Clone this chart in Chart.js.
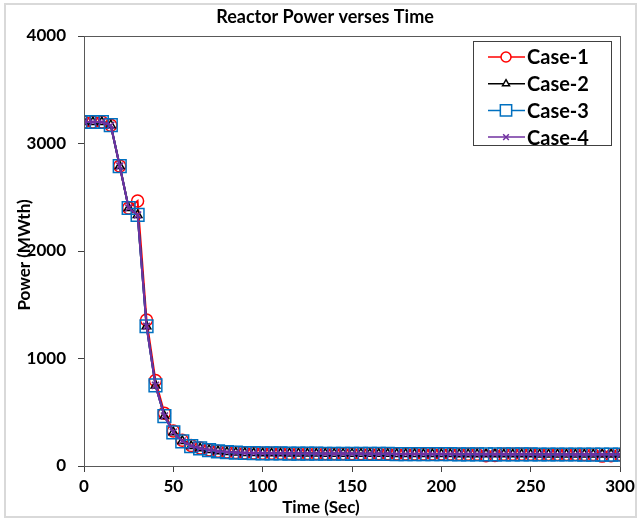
<!DOCTYPE html>
<html lang="en">
<head>
  <meta charset="UTF-8" />
  <title>Reactor Power verses Time</title>
  <style>
    body { margin: 0; background: #fff; }
    #wrap { width: 640px; height: 520px; position: relative; }
  </style>
</head>
<body>
  <div id="wrap"><canvas id="graph"></canvas></div>
  <script src="https://cdn.jsdelivr.net/npm/chart.js@4.4.1/dist/chart.umd.min.js"></script>
  <script>
// chart values
const times = [0, 5, 10, 15, 20, 25, 30, 35, 40, 45, 50, 55, 60, 65, 70, 75, 80, 85, 90, 95,
  100, 105, 110, 115, 120, 125, 130, 135, 140, 145, 150, 155, 160, 165, 170, 175, 180, 185, 190, 195,
  200, 205, 210, 215, 220, 225, 230, 235, 240, 245, 250, 255, 260, 265, 270, 275, 280, 285, 290, 295, 300]

const case1 = [3200, 3200, 3200, 3170, 2790, 2400, 2465, 1358, 795, 490, 325, 240, 190, 168, 150, 138, 130, 125, 122, 120,
  119, 118, 118, 117, 117, 116, 116, 115, 115, 115, 114, 114, 113, 113, 113, 112, 112, 112, 111, 111,
  111, 111, 110, 110, 110, 95, 98, 109, 109, 109, 109, 108, 108, 108, 108, 108, 107, 107, 92, 95, 107]
const case2 = [3200, 3200, 3200, 3170, 2790, 2400, 2335, 1300, 750, 465, 315, 233, 186, 165, 150, 138, 130, 125, 122, 120,
  119, 118, 118, 117, 117, 116, 116, 115, 115, 115, 114, 114, 113, 113, 113, 112, 112, 112, 111, 111,
  111, 111, 110, 110, 110, 110, 110, 109, 109, 109, 109, 108, 108, 108, 108, 108, 107, 107, 107, 107, 107]
const case3 = [3200, 3200, 3200, 3170, 2790, 2400, 2335, 1300, 750, 465, 312, 230, 184, 163, 148, 137, 129, 124, 121, 119,
  118, 117, 117, 116, 116, 115, 115, 114, 114, 114, 113, 113, 112, 112, 112, 111, 111, 111, 110, 110,
  110, 110, 109, 109, 109, 109, 109, 108, 108, 108, 108, 107, 107, 107, 107, 107, 106, 106, 106, 106, 106]
const case4 = [3200, 3200, 3200, 3170, 2790, 2400, 2335, 1300, 750, 465, 315, 233, 186, 165, 150, 138, 130, 125, 122, 120,
  119, 118, 118, 117, 117, 116, 116, 115, 115, 115, 114, 114, 113, 113, 113, 112, 112, 112, 111, 111,
  111, 111, 110, 110, 110, 110, 110, 109, 109, 109, 109, 108, 108, 108, 108, 108, 107, 107, 107, 107, 107]

const xTicks = [0, 50, 100, 150, 200, 250, 300]
const yTicks = [0, 1000, 2000, 3000, 4000]

const FONT = 'Lato, "Open Sans", sans-serif'

const toPoints = vals => times.map((t, i) => ({ x: t, y: vals[i] }))

const series = [
  { label: 'Case-1', data: case1, color: '#ff0000', style: 'circle', radius: 6, order: 3 },
  { label: 'Case-2', data: case2, color: '#000000', style: 'triangle', radius: 5, order: 2 },
  { label: 'Case-3', data: case3, color: '#0070c0', style: 'rect', radius: 9, order: 1 },
  { label: 'Case-4', data: case4, color: '#7030a0', style: 'crossRot', radius: 5, order: 0 }
]

// frame, plot box, axis titles and legend
const decorations = {
  id: 'decorations',
  beforeDraw(chart) {
    const ctx = chart.ctx
    ctx.save()
    ctx.fillStyle = '#fff'
    ctx.fillRect(0, 0, chart.width, chart.height)
    ctx.strokeStyle = '#d9d9d9'
    ctx.lineWidth = 2
    ctx.strokeRect(5, 4, 631, 513)
    ctx.restore()
  },
  afterDraw(chart) {
    const ctx = chart.ctx
    const a = chart.chartArea
    ctx.save()
    ctx.strokeStyle = '#595959'
    ctx.lineWidth = 1
    ctx.strokeRect(Math.round(a.left) + 0.5, Math.round(a.top) + 0.5, Math.round(a.right - a.left), Math.round(a.bottom - a.top))

    ctx.fillStyle = '#000'
    ctx.font = 'bold 18px ' + FONT
    ctx.textAlign = 'center'
    ctx.textBaseline = 'middle'
    ctx.fillText('Reactor Power verses Time', 325, 17)
    ctx.font = 'bold 17px ' + FONT
    ctx.fillText('Time (Sec)', 321, 508)
    ctx.translate(25, (a.top + a.bottom) / 2 + 4)
    ctx.rotate(-Math.PI / 2)
    ctx.fillText('Power (MWth)', 0, 0)
    ctx.restore()

    // legend
    ctx.save()
    ctx.fillStyle = '#fff'
    ctx.fillRect(473, 41, 138, 104)
    ctx.strokeStyle = '#404040'
    ctx.lineWidth = 1
    ctx.strokeRect(473.5, 41.5, 138, 104)
    ctx.font = 'bold 20px ' + FONT
    ctx.textAlign = 'left'
    ctx.textBaseline = 'middle'
    series.forEach((s, i) => {
      const y = 57 + i * 26.7
      ctx.strokeStyle = s.color
      ctx.lineWidth = 1.5
      ctx.beginPath()
      ctx.moveTo(488, y)
      ctx.lineTo(525, y)
      ctx.stroke()
      ctx.fillStyle = '#fff'
      Chart.helpers.drawPoint(ctx, { pointStyle: s.style, radius: s.radius - 1, borderWidth: 1.5, rotation: 0 }, 506, y)
      ctx.fillStyle = '#000'
      ctx.fillText(s.label, 527, y + 1)
    })
    ctx.restore()
  }
}

new Chart(document.getElementById('graph'), {
  type: 'line',
  data: {
    datasets: series.map(s => ({
      label: s.label,
      data: toPoints(s.data),
      order: s.order,
      borderColor: s.color,
      borderWidth: 2,
      pointStyle: s.style,
      pointRadius: s.radius,
      pointBorderColor: s.color,
      pointBorderWidth: 1.5,
      pointBackgroundColor: 'rgba(0,0,0,0)',
      tension: 0
    }))
  },
  options: {
    responsive: true,
    maintainAspectRatio: false,
    animation: false,
    layout: { padding: { left: 20, right: 20, top: 36, bottom: 20 } },
    plugins: {
      legend: { display: false },
      tooltip: { enabled: false }
    },
    scales: {
      x: {
        type: 'linear',
        min: 0,
        max: 300,
        afterBuildTicks: s => { s.ticks = xTicks.map(v => ({ value: v })) },
        afterFit: s => { s.height = 34 },
        ticks: { color: '#000', font: { family: FONT, size: 17, weight: 'bold' }, padding: 4, maxRotation: 0, callback: v => String(v) },
        grid: { drawOnChartArea: false, drawTicks: true, tickLength: 6, color: '#404040' },
        border: { display: true, color: '#404040' }
      },
      y: {
        type: 'linear',
        min: 0,
        max: 4000,
        afterBuildTicks: s => { s.ticks = yTicks.map(v => ({ value: v })) },
        afterFit: s => { s.width = 64 },
        ticks: { color: '#000', font: { family: FONT, size: 17, weight: 'bold' }, padding: 12, callback: v => String(v) },
        grid: { drawOnChartArea: false, drawTicks: true, tickLength: 6, color: '#404040' },
        border: { display: true, color: '#404040' }
      }
    }
  },
  plugins: [decorations]
})
  </script>
</body>
</html>
